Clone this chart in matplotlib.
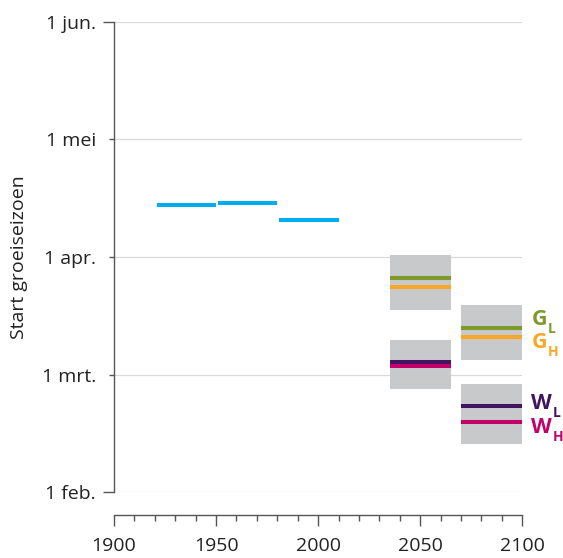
import matplotlib
matplotlib.use('Agg')
import matplotlib.pyplot as plt
from matplotlib.patches import Rectangle
from matplotlib.ticker import FixedLocator, FixedFormatter, MultipleLocator

plt.rcParams['font.family'] = ['Open Sans', 'DejaVu Sans']

# y values expressed in months: 2 = 1 feb, 3 = 1 mrt, ...
major_month_ticks = [2, 6]
major_month_labels = ['1 feb.', '1 jun.']
minor_month_ticks = [3, 4, 5]
minor_month_labels = ['1 mrt.', '1 apr.', '1 mei']

# observed periods
obs_start = [1921, 1951, 1981]
obs_end = [1950, 1980, 2010]
obs_values = [4.439, 4.459, 4.317]

# scenario periods
scen_start = [2035, 2070]
scen_end = [2065, 2100]
g_range_low = [3.551, 3.127]
g_range_high = [4.018, 3.592]
w_range_low = [2.881, 2.413]
w_range_high = [3.294, 2.920]
g_l = [3.824, 3.399]
g_h = [3.743, 3.320]
w_l = [3.105, 2.736]
w_h = [3.071, 2.600]

scenario_main = ['G', 'G', 'W', 'W']
scenario_sub = ['L', 'H', 'L', 'H']
label_baseline = [3.422, 3.229, 2.708, 2.507]

c_blue = '#00AEEF'
c_green = '#7F9A2C'
c_orange = '#F9A825'
c_purple = '#42145F'
c_magenta = '#C4006A'
c_box = '#C8C9CB'
c_axis = '#555555'
c_grid = '#D9D9D9'
c_text = '#222222'

fig = plt.figure(figsize=(5.63, 5.58), dpi=100)
W, H = 563, 558
ax = fig.add_axes([114 / W, 1 - 492.3 / H, (522.3 - 114) / W, (492.3 - 21.7) / H])

ax.set_xlim(1900, 2100)
ax.set_ylim(2, 6)

# boxes
for s, e, lo, hi in zip(scen_start, scen_end, g_range_low, g_range_high):
    ax.add_patch(Rectangle((s, lo), e - s, hi - lo, facecolor=c_box, edgecolor='none', zorder=2))
for s, e, lo, hi in zip(scen_start, scen_end, w_range_low, w_range_high):
    ax.add_patch(Rectangle((s, lo), e - s, hi - lo, facecolor=c_box, edgecolor='none', zorder=2))

lw = 2.9
for s, e, v in zip(obs_start, obs_end, obs_values):
    ax.plot([s, e], [v, v], color=c_blue, lw=lw, solid_capstyle='butt', zorder=3)

for series, col in [(g_l, c_green), (g_h, c_orange), (w_l, c_purple), (w_h, c_magenta)]:
    for s, e, v in zip(scen_start, scen_end, series):
        ax.plot([s, e], [v, v], color=col, lw=lw, solid_capstyle='butt', zorder=3)

# scenario labels on right
label_cols = [c_green, c_orange, c_purple, c_magenta]
for main, sub, yv, col in zip(scenario_main, scenario_sub, label_baseline, label_cols):
    t = ax.text(2104.5, yv, main, color=col, fontsize=15.5, fontweight='bold',
                va='baseline', ha='left', clip_on=False)
    ax.annotate(sub, xy=(1, yv), xycoords=(t, 'data'), xytext=(0.5, -5.8),
                textcoords='offset points', color=col, fontsize=10, fontweight='bold',
                va='baseline', ha='left', annotation_clip=False)

# axes styling
for sp in ['top', 'right']:
    ax.spines[sp].set_visible(False)
ax.spines['left'].set_color(c_axis)
ax.spines['bottom'].set_color(c_axis)
ax.spines['left'].set_linewidth(1.0)
ax.spines['bottom'].set_linewidth(1.0)
ax.spines['bottom'].set_position(('outward', 16.6))

ax.yaxis.set_major_locator(FixedLocator(major_month_ticks))
ax.yaxis.set_major_formatter(FixedFormatter(major_month_labels))
ax.yaxis.set_minor_locator(FixedLocator(minor_month_ticks))
ax.yaxis.set_minor_formatter(FixedFormatter(minor_month_labels))
ax.tick_params(axis='y', which='major', length=8, width=1, color=c_axis, pad=5, labelsize=14, labelcolor=c_text)
ax.tick_params(axis='y', which='minor', length=3.6, width=1, color=c_axis, pad=9.4, labelsize=14, labelcolor=c_text)

ax.xaxis.set_major_locator(MultipleLocator(50))
ax.xaxis.set_minor_locator(MultipleLocator(10))
ax.tick_params(axis='x', which='major', length=8, width=1, color=c_axis, pad=7.5, labelsize=14, labelcolor=c_text)
ax.tick_params(axis='x', which='minor', length=4.3, width=1, color=c_axis)

ax.grid(axis='y', which='both', color=c_grid, lw=0.9)
ax.set_axisbelow(True)

ax.set_ylabel('Start groeiseizoen', fontsize=14, color=c_text, labelpad=10)

fig.savefig('out.png', dpi=100)
